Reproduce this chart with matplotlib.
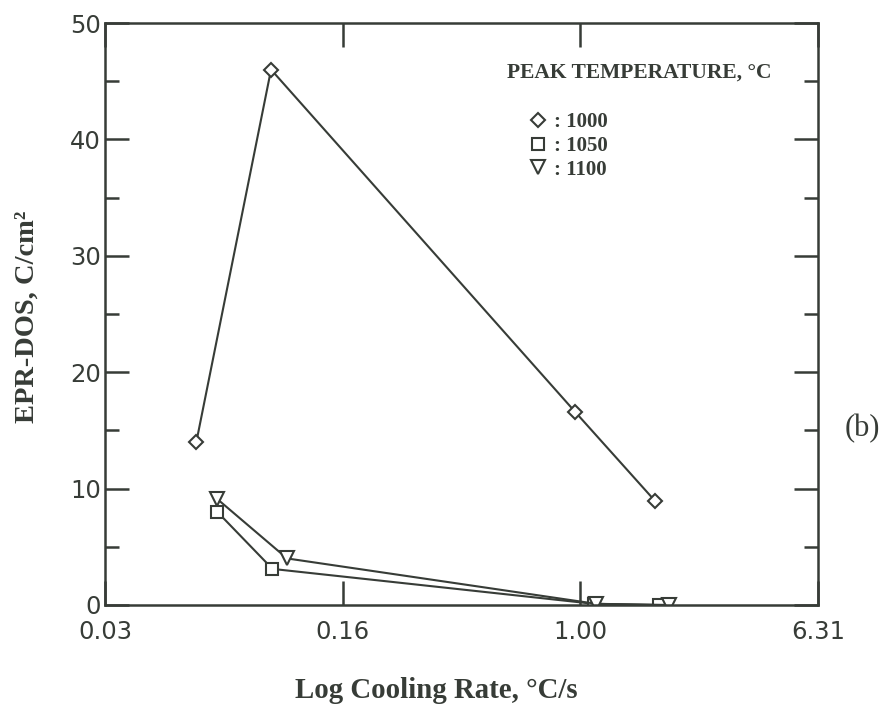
import matplotlib
matplotlib.use("Agg")
import matplotlib.pyplot as plt
import numpy as np

# data (cooling rate in degC/s, EPR-DOS in C/cm2)
rate_1000 = [0.051, 0.091, 0.96, 1.79]
dos_1000 = [14.0, 46.0, 16.6, 8.9]
rate_1050 = [0.060, 0.092, 1.11, 1.84]
dos_1050 = [8.0, 3.1, 0.1, 0.0]
rate_1100 = [0.060, 0.103, 1.13, 1.99]
dos_1100 = [9.1, 4.0, 0.1, 0.0]

x_tick_pos = [10 ** -1.6, 10 ** -0.8, 1.0, 10 ** 0.8]
x_tick_labels = ["0.03", "0.16", "1.00", "6.31"]
y_ticks = [0, 10, 20, 30, 40, 50]
legend_labels = [": 1000", ": 1050", ": 1100"]

ink = "#373c37"
serif = "Liberation Serif"
sans = "DejaVu Sans"

fig = plt.figure(figsize=(8.85, 7.08), dpi=100)
ax = fig.add_axes([0.1186, 0.1455, 0.8057, 0.822])

mk = dict(color=ink, lw=1.5, markerfacecolor="white", markeredgecolor=ink,
          markeredgewidth=1.5)
l1, = ax.plot(rate_1000, dos_1000, marker="D", markersize=7, **mk)
l2, = ax.plot(rate_1050, dos_1050, marker="s", markersize=8, **mk)
l3, = ax.plot(rate_1100, dos_1100, marker="v", markersize=10, **mk)

ax.set_xscale("log")
ax.set_xlim(x_tick_pos[0], x_tick_pos[-1])
ax.set_ylim(0, 50)
ax.set_xticks(x_tick_pos)
ax.set_xticklabels(x_tick_labels)
ax.xaxis.set_minor_locator(matplotlib.ticker.NullLocator())
ax.set_yticks(y_ticks)
ax.yaxis.set_minor_locator(matplotlib.ticker.MultipleLocator(5))

ax.tick_params(axis="both", which="major", direction="in", length=17, width=1.8,
               color=ink, labelcolor=ink, labelsize=17.5)
ax.tick_params(axis="x", which="major", top=True, pad=11)
ax.tick_params(axis="y", which="both", right=True, pad=3)
ax.tick_params(axis="y", which="minor", direction="in", length=10, width=1.8, color=ink)
for lab in ax.get_xticklabels() + ax.get_yticklabels():
    lab.set_family(sans)
for s in ax.spines.values():
    s.set_color(ink)
    s.set_linewidth(1.8)

ax.set_ylabel("EPR-DOS, C/cm\u00b2", family=serif, fontsize=20.5, fontweight="bold",
              color=ink)
ax.yaxis.set_label_coords(-0.091, 0.495)
ax.set_xlabel("Log Cooling Rate, \u00b0C/s", family=serif, fontsize=20.8,
              fontweight="bold", color=ink)
ax.xaxis.set_label_coords(0.464, -0.124)

fig.text(0.573, 0.898, "PEAK TEMPERATURE, \u00b0C", family=serif, fontsize=15.5,
         fontweight="bold", color=ink, ha="left", va="center")
leg = ax.legend([l1, l2, l3], legend_labels, loc="upper left",
                bbox_to_anchor=(0.607, 0.847), frameon=False, handlelength=0,
                handletextpad=0.8, labelspacing=0.18, borderpad=0,
                borderaxespad=0,
                prop={"family": serif, "size": 15, "weight": "bold"})
for t in leg.get_texts():
    t.set_color(ink)

fig.text(0.975, 0.395, "(b)", family=serif, fontsize=22, color=ink,
         ha="center", va="center")

fig.savefig("out.png", dpi=100)
